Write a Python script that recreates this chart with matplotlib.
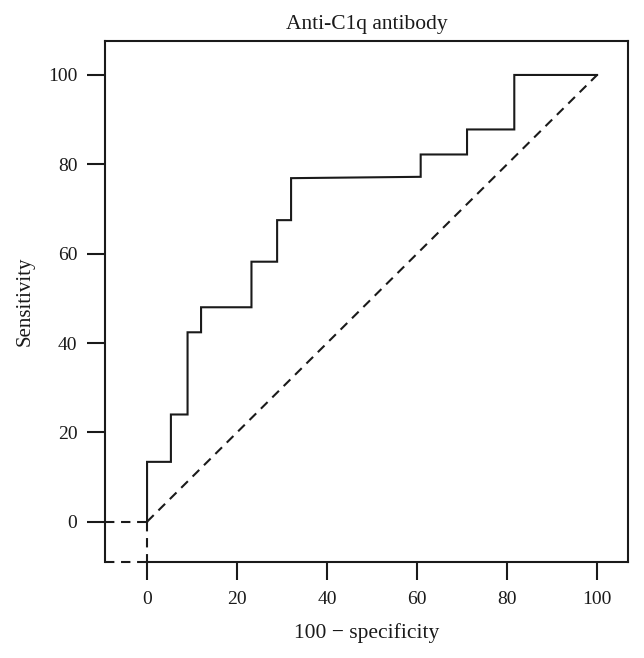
import matplotlib
matplotlib.use("Agg")
import matplotlib.pyplot as plt

plt.rcParams['font.family'] = ['Liberation Serif', 'DejaVu Serif']

# ROC curve vertices (100 - specificity, sensitivity), in %
fpr = [0, 0, 5.3, 5.3, 9.0, 9.0, 12.0, 12.0, 23.2, 23.2, 28.9, 28.9, 32.0, 32.0,
       60.8, 60.8, 71.1, 71.1, 81.6, 81.6, 100]
tpr = [0, 13.4, 13.4, 24.0, 24.0, 42.4, 42.4, 48.0, 48.0, 58.2, 58.2, 67.5, 67.5,
       76.9, 77.2, 82.2, 82.2, 87.8, 87.8, 100, 100]
ref_x = [0, 100]
ref_y = [0, 100]
ticks = [0, 20, 40, 60, 80, 100]
title = "Anti-C1q antibody"
xlabel = "100 \u2212 specificity"
ylabel = "Sensitivity"

XMIN, XMAX = -9.3, 106.8
YMIN, YMAX = -8.95, 107.6

fig = plt.figure(figsize=(6.44, 6.58), dpi=100)
ax = fig.add_axes([105.2 / 644, 1 - 561.7 / 658, (627.7 - 105.2) / 644, (561.7 - 41) / 658])

col = '#1a1a1a'
lw = 1.5
dash = (0, (4.5, 3.2))

ax.plot(fpr, tpr, color=col, lw=lw, solid_joinstyle='miter')
ax.plot(ref_x, ref_y, color=col, lw=lw, linestyle=dash)
ax.plot([XMIN, 0], [0, 0], color=col, lw=lw, linestyle=dash, clip_on=False)
ax.plot([0, 0], [0, YMIN], color=col, lw=lw, linestyle=dash, clip_on=False)
ax.plot([XMIN, 0], [YMIN, YMIN], color=col, lw=lw, linestyle=dash, clip_on=False)

ax.set_xlim(XMIN, XMAX)
ax.set_ylim(YMIN, YMAX)
ax.set_xticks(ticks)
ax.set_yticks(ticks)
for s in ax.spines.values():
    s.set_linewidth(lw)
    s.set_color(col)
ax.spines['bottom'].set_bounds(0, XMAX)

ax.tick_params(axis='both', direction='out', length=13, width=lw, color=col,
               labelsize=14, labelcolor=col)
ax.tick_params(axis='x', pad=8)
ax.tick_params(axis='y', pad=7)

ax.set_title(title, fontsize=15.5, color=col, pad=9)
ax.set_xlabel(xlabel, fontsize=15.5, color=col, labelpad=11)
ax.set_ylabel(ylabel, fontsize=15, color=col, labelpad=10)

fig.savefig("out.png", dpi=100)
